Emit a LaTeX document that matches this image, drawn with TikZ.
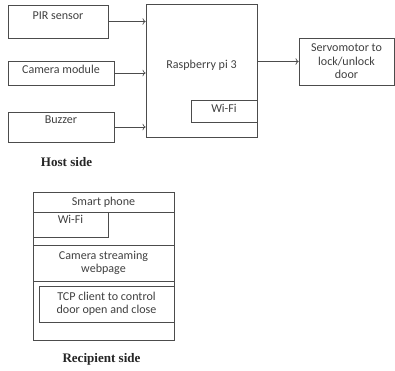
\documentclass[tikz,border=0pt]{standalone}
\usepackage{fontspec}
\setmainfont{Carlito}
\newfontfamily\sidefont{Liberation Serif}
\usetikzlibrary{positioning}
\usetikzlibrary{arrows.meta}

\tikzset{
  blk/.style={draw=black!70, line width=0.7pt, rectangle, align=center, inner sep=0pt, text=black!75, font=\fontsize{12}{13.5}\selectfont},
  sidelabel/.style={font=\sidefont\bfseries\fontsize{13}{15}\selectfont, text=black!85},
  link/.style={->, draw=black!70, line width=0.7pt}
}

\begin{document}
\begin{tikzpicture}
            \useasboundingbox (0,0) rectangle (13.825,-12.95);
            % host side
            \node[blk, minimum width=3.5cm, text height=14.5pt, text depth=18.5pt] (pir) at (2.03,-0.7525) {PIR sensor};
            \node[blk, minimum width=3.71cm, text height=12.5pt, text depth=11.5pt] (cam) at (2.135,-2.555) {Camera module};
            \node[blk, minimum width=3.71cm, text height=11.5pt, text depth=18.5pt] (buzzer) at (2.135,-4.445) {Buzzer};
            \node[blk, minimum width=3.885cm, text height=63.5pt, text depth=68.5pt] (rpi) at (7.0525,-2.485) {Raspberry pi 3};
            \node[blk, minimum width=2.31cm, text height=12.5pt, text depth=9.5pt] (rpiwifi) at (7.84,-3.885) {Wi-Fi};
            \node[blk, minimum width=3.325cm, minimum height=1.645cm] (servo) at (12.1275,-2.1525) {Servomotor to\\lock/unlock\\door};
            \node[sidelabel] (host) at (2.3275,-5.67) {Host side};

            \draw[link] (pir) -- (pir -| rpi.west);
            \draw[link] (cam) -- (cam -| rpi.west);
            \draw[link] (buzzer) -- (buzzer -| rpi.west);
            \draw[link] (rpi.east |- servo) -- (servo);

            % recipient side
            \node[blk, minimum width=4.935cm, minimum height=5.18cm] (phone) at (3.6225,-9.31) {};
            \node[blk, minimum width=4.935cm, minimum height=0.7cm] (phonetitle) at (3.6225,-7.07) {Smart phone};
            \node[blk, minimum width=2.625cm, text height=11.5pt, text depth=13.5pt] (phonewifi) at (2.4675,-7.8575) {Wi-Fi};
            \node[blk, minimum width=4.935cm, minimum height=1.26cm] (stream) at (3.6225,-9.205) {Camera streaming\\webpage};
            \node[blk, minimum width=4.725cm, minimum height=1.26cm] (tcp) at (3.7275,-10.64) {TCP client to control\\door open and close};
            \node[sidelabel] (recipient) at (3.5525,-12.565) {Recipient side};
        \end{tikzpicture}
\end{document}
